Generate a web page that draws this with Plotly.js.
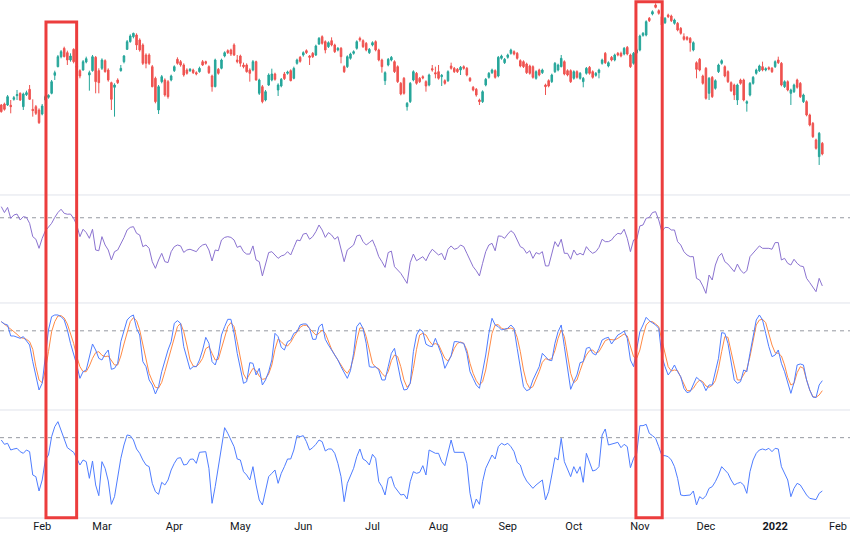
<!DOCTYPE html>
<html>
<head>
<meta charset="utf-8">
<script src="https://cdn.plot.ly/plotly-3.0.1.min.js"></script>
<style>html,body{margin:0;padding:0;background:#fff;}#chart{width:850px;height:536px;}</style>
</head>
<body>
<div id="chart"></div>
<script>
// ---- categories: trading days (US market) ----
const holidays = ['2021-01-18','2021-02-15','2021-04-02','2021-05-31','2021-07-05','2021-09-06','2021-11-25','2021-12-24','2022-01-17'];
const firstDay = '2021-01-12';
const lastDay = '2022-01-25';
function tradingDays(a, b) {
  const out = [];
  let t = Date.parse(a + 'T00:00:00Z');
  const end = Date.parse(b + 'T00:00:00Z');
  while (t <= end) {
    const d = new Date(t);
    const s = d.toISOString().slice(0, 10);
    const wd = d.getUTCDay();
    if (wd !== 0 && wd !== 6 && holidays.indexOf(s) < 0) out.push(s);
    t += 86400000;
  }
  return out;
}
const dates = tradingDays(firstDay, lastDay);

// ---- price (OHLC) ----
const open = [
2135,2138,2135,2134,2152,2163,2170,2130,2166,2182,
2122,2130,2120,2108,2150,2158,2170,2224,2250,2280,
2305,2292,2270,2302,2248,2238,2240,2264,2225,2238,
2278,2238,2245,2268,2240,2202,2188,2210,2238,2265,
2302,2325,2340,2345,2330,2315,2285,2285,2250,2215,
2120,2205,2210,2205,2210,2238,2272,2265,2255,2240,
2238,2240,2232,2235,2265,2265,2250,2222,2190,2242,
2245,2282,2298,2300,2315,2270,2282,2255,2255,2240,
2240,2265,2170,2190,2150,2195,2210,2228,2180,2192,
2228,2230,2238,2215,2260,2278,2285,2298,2282,2290,
2285,2318,2340,2325,2310,2328,2315,2300,2305,2250,
2250,2275,2290,2305,2335,2328,2320,2292,2315,2325,
2300,2270,2208,2255,2270,2265,2250,2200,2215,2130,
2145,2210,2230,2215,2220,2205,2195,2244,2232,2235,
2220,2208,2208,2252,2245,2242,2240,2250,2245,2215,
2188,2182,2150,2145,2195,2218,2232,2238,2222,2275,
2262,2278,2290,2295,2290,2268,2265,2258,2252,2250,
2215,2240,2232,2195,2208,2205,2235,2240,2250,2265,
2238,2238,2215,2235,2215,2205,2230,2248,2235,2224,
2232,2260,2290,2252,2278,2270,2290,2290,2288,2308,
2285,2260,2292,2300,2344,2345,2395,2408,2435,2418,
2400,2382,2405,2402,2380,2380,2365,2340,2338,2335,
2300,2262,2272,2222,2245,2170,2218,2185,2235,2260,
2250,2235,2202,2195,2150,2210,2210,2140,2165,2200,
2230,2238,2250,2240,2247,2245,2250,2270,2260,2190,
2205,2170,2175,2210,2200,2145,2145,2105,2080,2030,
1980,2020];
const high = [
2138,2142,2165,2150,2162,2180,2173,2172,2178,2195,
2152,2135,2125,2138,2165,2167,2210,2238,2285,2300,
2310,2298,2290,2305,2260,2242,2270,2280,2238,2285,
2282,2245,2275,2272,2245,2205,2200,2215,2255,2285,
2330,2347,2352,2350,2335,2320,2290,2290,2255,2220,
2195,2225,2215,2210,2226,2254,2278,2270,2260,2245,
2246,2244,2236,2250,2270,2268,2254,2226,2274,2246,
2274,2296,2302,2304,2320,2285,2286,2262,2260,2245,
2270,2268,2214,2195,2180,2230,2244,2232,2200,2216,
2234,2238,2242,2250,2274,2282,2296,2302,2285,2294,
2316,2339,2344,2329,2326,2338,2319,2309,2309,2254,
2284,2292,2299,2329,2340,2332,2324,2306,2326,2329,
2304,2274,2236,2276,2282,2269,2254,2204,2219,2144,
2204,2239,2234,2219,2224,2209,2229,2255,2250,2255,
2228,2212,2239,2262,2249,2246,2252,2254,2249,2219,
2192,2186,2154,2179,2216,2234,2244,2242,2282,2286,
2276,2289,2304,2299,2294,2272,2269,2262,2256,2254,
2239,2244,2244,2199,2212,2229,2264,2259,2285,2269,
2242,2242,2239,2239,2234,2219,2249,2252,2239,2234,
2244,2274,2294,2266,2282,2289,2294,2295,2309,2312,
2289,2294,2304,2346,2354,2389,2399,2419,2440,2422,
2404,2399,2409,2406,2394,2384,2369,2350,2342,2339,
2326,2266,2276,2226,2249,2219,2222,2212,2259,2272,
2254,2239,2206,2199,2199,2214,2214,2149,2204,2222,
2244,2256,2265,2248,2251,2249,2269,2280,2264,2209,
2209,2184,2199,2214,2204,2169,2149,2109,2084,2034,
2054,2024];
const low = [
2112,2118,2132,2110,2148,2150,2147,2120,2162,2150,
2100,2105,2078,2104,2132,2154,2167,2210,2248,2275,
2278,2255,2265,2260,2240,2215,2238,2260,2178,2235,
2170,2170,2240,2232,2205,2120,2100,2198,2235,2260,
2300,2322,2335,2300,2295,2255,2245,2255,2188,2140,
2108,2200,2160,2154,2206,2234,2256,2250,2220,2226,
2234,2228,2224,2232,2252,2256,2228,2175,2188,2226,
2242,2278,2288,2282,2282,2260,2250,2245,2232,2205,
2236,2208,2165,2140,2146,2192,2206,2208,2162,2188,
2210,2226,2206,2212,2256,2262,2280,2288,2255,2276,
2282,2315,2316,2290,2306,2311,2291,2296,2260,2231,
2246,2271,2286,2301,2325,2306,2296,2288,2311,2296,
2266,2232,2195,2251,2266,2231,2201,2164,2166,2118,
2141,2206,2196,2201,2212,2175,2191,2235,2215,2211,
2192,2196,2204,2241,2231,2231,2225,2241,2221,2204,
2176,2160,2135,2141,2191,2214,2228,2214,2218,2271,
2258,2274,2286,2284,2271,2248,2246,2228,2226,2214,
2211,2221,2228,2165,2188,2201,2231,2236,2248,2224,
2221,2201,2211,2214,2211,2188,2226,2226,2214,2220,
2215,2256,2258,2248,2266,2266,2281,2278,2284,2284,
2246,2256,2288,2296,2340,2341,2384,2404,2425,2406,
2365,2378,2396,2384,2376,2356,2346,2328,2328,2295,
2296,2215,2236,2196,2151,2150,2156,2181,2231,2256,
2218,2201,2174,2150,2135,2196,2146,2115,2161,2196,
2226,2234,2236,2236,2239,2231,2246,2258,2191,2186,
2176,2135,2171,2184,2156,2141,2101,2071,2036,2001,
1955,1984];
const close = [
2115,2122,2160,2130,2157,2166,2150,2168,2172,2152,
2118,2110,2082,2132,2160,2164,2205,2232,2280,2295,
2280,2270,2282,2265,2252,2222,2265,2274,2232,2280,
2205,2202,2270,2235,2210,2152,2195,2202,2245,2282,
2325,2342,2350,2315,2300,2260,2260,2260,2190,2145,
2190,2220,2165,2160,2222,2250,2260,2255,2225,2230,
2242,2232,2228,2245,2255,2260,2232,2190,2270,2230,
2270,2292,2292,2288,2285,2265,2260,2250,2235,2230,
2265,2210,2210,2145,2175,2225,2228,2212,2195,2212,
2214,2234,2208,2245,2270,2266,2292,2292,2278,2280,
2312,2335,2320,2300,2322,2315,2295,2305,2280,2235,
2280,2288,2295,2325,2330,2310,2300,2302,2322,2300,
2270,2250,2232,2272,2278,2235,2205,2168,2170,2140,
2200,2235,2200,2205,2216,2192,2225,2240,2228,2215,
2224,2200,2235,2245,2235,2235,2248,2245,2225,2208,
2180,2165,2145,2175,2212,2230,2240,2218,2278,2282,
2272,2285,2300,2288,2275,2252,2250,2232,2230,2218,
2235,2225,2240,2190,2192,2225,2260,2255,2275,2228,
2225,2205,2235,2218,2230,2215,2245,2230,2218,2230,
2240,2270,2262,2262,2270,2285,2285,2282,2305,2288,
2250,2290,2300,2342,2350,2385,2388,2415,2428,2410,
2375,2395,2400,2388,2390,2360,2350,2332,2332,2322,
2322,2242,2240,2200,2155,2215,2160,2208,2255,2268,
2222,2205,2178,2165,2195,2200,2150,2145,2200,2218,
2240,2252,2240,2244,2243,2235,2265,2262,2195,2205,
2180,2180,2195,2188,2160,2165,2105,2075,2040,2005,
2050,1988];

// ---- RSI ----
const rsi = [
76.0,72.8,75.6,69.7,71.5,72.0,68.8,70.6,70.2,67.0,
59.8,58.4,53.5,58.9,62.9,65.2,67.0,70.2,72.8,74.6,
72.4,71.9,72.0,69.7,66.1,59.8,63.8,62.0,58.9,63.8,
52.6,52.2,59.8,55.3,52.6,47.2,51.7,52.6,55.8,59.3,
63.4,64.8,65.2,61.6,60.7,54.4,55.3,53.5,46.3,42.7,
47.2,50.8,46.3,45.8,51.7,54.4,55.3,54.8,51.3,52.6,
53.0,52.2,51.7,54.0,55.3,55.8,52.6,46.7,52.6,52.2,
58.0,59.4,59.8,59.4,58.0,54.0,54.8,51.7,50.4,50.4,
54.8,47.2,46.3,38.6,44.5,51.2,51.7,49.9,48.1,49.4,
49.9,51.7,49.9,54.0,58.0,57.6,61.2,61.6,58.4,59.8,
62.5,66.1,63.4,59.4,62.0,60.7,58.4,59.8,52.6,46.3,
52.6,54.0,55.3,60.2,60.7,57.1,55.3,56.6,58.0,54.0,
49.0,46.3,43.2,51.2,52.0,43.6,41.8,40.0,37.3,34.6,
45.8,50.4,46.8,48.1,49.0,46.8,50.4,53.0,51.7,49.9,
50.8,47.2,53.0,54.8,53.0,53.5,55.3,54.4,50.8,47.2,
43.6,41.4,38.6,45.4,51.7,55.3,56.2,52.2,60.2,60.0,
58.9,61.2,63.0,61.6,58.0,54.4,53.5,50.8,52.2,48.1,
51.2,50.4,51.7,44.0,44.0,50.8,57.1,54.4,58.4,50.8,
50.8,47.6,52.6,49.9,50.8,49.9,54.4,52.2,50.8,51.7,
54.0,58.4,57.1,57.1,58.0,60.2,61.6,61.2,63.8,58.9,
51.7,58.0,58.4,65.6,66.1,69.7,70.2,72.8,73.3,68.8,
62.5,64.8,64.7,63.4,63.4,57.1,55.3,51.7,49.9,49.0,
49.0,37.3,36.4,33.2,29.2,39.1,36.4,44.5,49.0,50.8,
46.3,45.0,42.7,40.9,45.0,41.8,40.0,41.4,49.0,50.8,
52.6,54.8,53.5,53.5,53.5,53.0,56.6,56.6,47.2,48.1,
45.4,44.5,47.6,45.4,44.0,43.6,37.3,35.0,32.8,30.1,
37.3,33.2];
const rsiLevel = 70;

// ---- Stochastic %K / %D ----
const stochK = [
91,88.2,87,73.8,73.8,72.2,71,73,68.2,63,
43,25,9,17,53,81,97,99,99,97,
93,81,65,53,39,23,31,33,47,64.2,
57,47,45,52.2,57,33.8,35,41,67,79,
93,97,99,83,75,43,37,21,15,4.2,
13,31,45,57,67,89,92.2,89,61,47,
33.8,37,37,45,57,72.2,65,43,39,51,
75,85,93.8,93.8,77,53,33,17,19,41.8,
41,27,35,15,21,31,45,77,73,60.2,
57,67,69,77,79,87,88.2,88.2,83,69.8,
69.8,85,88.2,69.8,63,57,49.8,45,37,29.8,
23,32.2,53,85,89.8,83,65,37,36.2,37,
33,21,21,37,53,59,41,21,9,9.8,
17,55,75,81.8,79,64,61.8,61,71,61,
51,35,43,49.8,67,67,65.8,65,53,31,
23,15,11,31,51,77,95,87,85,81,
81.8,83,87,83,59,33,13,8.2,9.8,21,
29,37,53,49,45,44.2,65,79,87,61,
33,9.8,19,27,41.8,43,59,60.2,53,51,
59,69,71,72.2,64.2,69.8,75,77,79.8,71,
45,37,57,79,87,96.2,92.2,89.8,87,83,
49,37,27,32.2,39,31,25,11,5.8,7,
15,24.2,21,17,8.2,15,15,31,47,77.8,
77,65,41,21,17,19,33,31,53,71,
93,99,93,77,61,49,51,57,41,31,
19,5,17.8,39,40.2,39,21,9,0.5,0,
15,20.2];
const stochD = [
91,88.2,85,81.8,79,75.8,72.2,71,69.8,67,
57.8,37,21,17.8,32.2,55,79,91,97.8,98.2,
95.4,88.2,77,65,49,37,31,31,37.8,47,
53.8,55,50.6,49,49.8,45,39,39,49.8,64.2,
78.6,91,95.8,92.2,81,63,45,29,19.8,12.2,
11.4,18.2,31,45,59,72.2,85,89,79,63,
45,37.8,37,41,47,58.6,61,53,45,45.8,
59,73,85,89.8,85,67,47,28.2,21.8,28.2,
35,32.2,25.8,21.8,22.6,28.2,39,57.8,70.2,67,
63,61.8,66.2,73,78.6,84.2,86.6,86.6,82.6,78.2,
75,77,81,77,67,57.8,51,45,39,33,
29,35,48.2,68.2,83.4,83.4,73,55,41,36.2,
34.6,29,25,31,44.2,51,49,37,21,12.2,
17,35,57.8,75,77,75,68.2,63.4,64.6,63.4,
55,47,43.8,49.8,59,65,66.6,65,57,41,
29,20.2,15,19,33,55,77,87,87.4,83,
81.8,82.6,83.4,81.8,72.2,55,33,17.8,11,13,
21.8,31,42.2,46.6,45.4,46.6,56.2,71,81,73,
51,29,17.8,21,32.2,43,51,56.2,57,53,
55,61,68.2,69.8,69,69,71,73.8,76.2,73.8,
61,49,47,57,73.8,87,91,91,88.2,85,
69,51,37,31.8,33,32.2,24.2,15,8.2,8.2,
11,17,21,19,13.8,12.2,14.6,20.2,35,55,
73,72.2,55,35,21,21,27,33.8,49,69,
87,93,93.8,89.8,77,63,53.8,53,49.8,39,
24.2,15,17,29.8,37,35,21,9,1,0.2,
3,8.2];
const stochLevel = 80;

// ---- Money-flow style oscillator (bottom pane) ----
const mfi = [
77.9,74,74.9,68.9,69.8,70.4,67.4,65.9,68.9,67.4,
46.4,44.9,32,41.9,59.9,64.4,80.9,89.9,94.4,86.9,
79.4,71,68.9,66.8,61.4,55.4,59.9,58.4,43.4,59,
37.4,27.8,58.4,52.4,41,20,26.9,44.9,61.4,73.4,
82.4,81.8,77.9,69.8,65.9,59.9,55.4,53.9,38.9,31.4,
29,39.8,37.4,41.9,50.9,56.9,61.4,62,55.4,56,
60.5,60.8,56.9,66.8,67.4,67.4,52.4,20.9,35.9,53.9,
71.9,89,83.9,77.9,71.9,60.8,59.9,49.4,46.4,41.9,
53.9,37.4,23.9,19.4,32.9,44.9,47.9,50.9,38.9,47.9,
53.9,60.8,60.8,68.9,81.8,80.9,81.8,76.4,68.9,71,
74,77.9,76.4,68,69.8,69.8,65.9,56.9,44.9,22.4,
38.9,46.4,52.4,62.9,69.8,60.8,59,55.4,65,61.4,
40.4,35.9,28.4,43.4,44.9,35.9,32,28.4,29,24.8,
40.4,49.4,47.9,48.8,54.8,46.4,68.9,67.4,65.9,65.9,
58.4,54.8,65.9,77.9,66.8,66.8,66.8,66.8,56.9,29.9,
16.4,24.8,20,40.4,52.4,58.4,64.4,60.8,71.9,74.9,
73.4,74.9,71.9,67.4,57.8,55.4,46.4,41,37.4,34.4,
37.4,39.8,41.9,23.9,31.4,46.4,62,59.9,79.4,58.4,
50.9,44.9,53.9,47.9,53.9,39.8,65.9,56.9,50,50.9,
53.9,82.4,87.8,73.4,74,74.9,75.8,71,74,71.9,
53,61.4,65.9,90.8,90.8,92,83.9,81.8,79.4,71.9,
63.8,63.8,62.9,59.9,53.9,43.4,28.4,27.8,27.8,28.4,
32,19.4,26.9,24.8,27.8,34.4,35.9,40.4,46.4,53.9,
50.9,47.9,41.9,37.4,38.9,39.8,37.4,29.9,49.4,59.9,
65.9,68.9,69.8,68.9,70.4,67.4,70.4,69.8,53.9,47.9,
41.9,26.9,34.4,38.9,37.4,32.9,28.4,25.4,24.8,24.2,
29.9,32];
const mfiLevel = 80;

// ---- axis ticks ----
const tickDates = ['2021-02-01','2021-03-01','2021-04-01','2021-05-03','2021-06-01','2021-07-01','2021-08-02','2021-09-01','2021-10-01','2021-11-01','2021-12-01','2022-01-03','2022-02-01'];
const tickLabels = ['Feb','Mar','Apr','May','Jun','Jul','Aug','Sep','Oct','Nov','Dec','<b>2022</b>','Feb'];

// ---- highlighted periods ----
const highlights = [
  {from:'2021-02-02 05:00', to:'2021-02-16 23:00', top:0.9575},
  {from:'2021-10-28 18:00', to:'2021-11-10 02:30', top:0.9967}
];

const traces = [
  {type:'candlestick', x:dates, open:open, high:high, low:low, close:close,
   xaxis:'x', yaxis:'y', whiskerwidth:0, hoverinfo:'skip',
   increasing:{line:{color:'#26a69a', width:1}, fillcolor:'#26a69a'},
   decreasing:{line:{color:'#ef5350', width:1}, fillcolor:'#ef5350'}},
  {type:'scatter', mode:'lines', x:dates, y:rsi, xaxis:'x', yaxis:'y2',
   line:{color:'#8b73d0', width:1}, hoverinfo:'skip'},
  {type:'scatter', mode:'lines', x:dates, y:stochD, xaxis:'x', yaxis:'y3',
   line:{color:'#ff8a45', width:1}, hoverinfo:'skip'},
  {type:'scatter', mode:'lines', x:dates, y:stochK, xaxis:'x', yaxis:'y3',
   line:{color:'#4f7dff', width:1}, hoverinfo:'skip'},
  {type:'scatter', mode:'lines', x:dates, y:mfi, xaxis:'x', yaxis:'y4',
   line:{color:'#4f7dff', width:1}, hoverinfo:'skip'}
];

const sepColor = '#e0e3eb';
const shapes = [];
[0.6236, 0.4151, 0.2085, 0].forEach(function(p){
  shapes.push({type:'line', xref:'paper', yref:'paper', x0:0, x1:1, y0:p, y1:p,
    line:{color:sepColor, width:1}, layer:'below'});
});
[['y2', rsiLevel], ['y3', stochLevel], ['y4', mfiLevel]].forEach(function(a){
  shapes.push({type:'line', xref:'paper', yref:a[0], x0:0, x1:1, y0:a[1], y1:a[1],
    line:{color:'#9598a1', width:1, dash:'4px,4px'}, layer:'below'});
});
highlights.forEach(function(h){
  shapes.push({type:'rect', xref:'x', yref:'paper', x0:h.from, x1:h.to, y0:0.0005, y1:h.top,
    line:{color:'#ec3d3d', width:3}, fillcolor:'rgba(0,0,0,0)', layer:'above'});
});

const hid = {visible:false, fixedrange:true};
const layout = {
  width:850, height:536,
  margin:{l:0, r:0, t:0, b:18, pad:0},
  paper_bgcolor:'#ffffff', plot_bgcolor:'#ffffff',
  showlegend:false, dragmode:false,
  xaxis:{type:'date', anchor:'y4',
    range:['2021-01-11 14:10', '2022-02-04 19:12'],
    rangebreaks:[{bounds:['sat','mon']}, {values:holidays}],
    rangeslider:{visible:false},
    tickmode:'array', tickvals:tickDates, ticktext:tickLabels,
    ticks:'', showgrid:false, zeroline:false, showline:false, fixedrange:true,
    tickfont:{family:'Roboto, "Liberation Sans", sans-serif', size:11, color:'#131722'}},
  yaxis: Object.assign({domain:[0.6236, 1], range:[1865, 2450]}, hid),
  yaxis2: Object.assign({domain:[0.4151, 0.6236], range:[24.0, 82.3]}, hid),
  yaxis3: Object.assign({domain:[0.2085, 0.4151], range:[-15, 113.4]}, hid),
  yaxis4: Object.assign({domain:[0, 0.2085], range:[7.7, 104.9]}, hid),
  shapes:shapes
};
Plotly.newPlot('chart', traces, layout, {displayModeBar:false, staticPlot:true});
</script>
</body>
</html>
